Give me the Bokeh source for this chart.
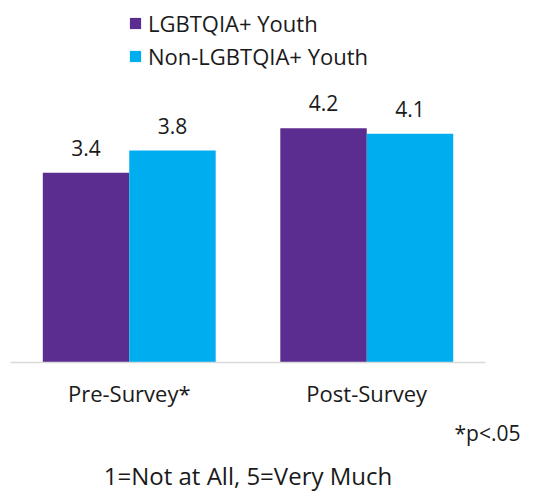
from bokeh.plotting import figure
from bokeh.models import ColumnDataSource, FactorRange, Range1d, Legend, LegendItem, Title
from bokeh.transform import dodge
from bokeh.core.properties import value
from bokeh.embed import file_html
from bokeh.resources import INLINE

# Survey data
categories = ["Pre-Survey*", "Post-Survey"]
series = ["LGBTQIA+ Youth", "Non-LGBTQIA+ Youth"]
lgbtqia = [3.4, 4.2]
non_lgbtqia = [3.8, 4.1]
colors = ["#5c2d91", "#00aeef"]
footnote = "*p<.05"
scale_note = "1=Not at All, 5=Very Much"

FONT = "Open Sans"
TEXT_COLOR = "#1a1a1a"

source = ColumnDataSource(dict(
    cat=categories,
    lgbtqia=lgbtqia,
    non=non_lgbtqia,
    lgbtqia_txt=[f"{v:.1f}" for v in lgbtqia],
    non_txt=[f"{v:.1f}" for v in non_lgbtqia],
))

p = figure(
    x_range=FactorRange(*categories, range_padding=0),
    y_range=Range1d(0, 6.49),
    frame_width=475, frame_height=362,
    min_border_left=10, min_border_right=57, min_border_top=0, min_border_bottom=0,
    output_backend="svg", toolbar_location=None,
    background_fill_color="white", border_fill_color="white",
    outline_line_color=None,
)

bw = 0.364
r1 = p.vbar(x=dodge("cat", -bw / 2, range=p.x_range), top="lgbtqia", width=bw,
            source=source, fill_color=colors[0], line_color=None)
r2 = p.vbar(x=dodge("cat", bw / 2, range=p.x_range), top="non", width=bw,
            source=source, fill_color=colors[1], line_color=None)

# value labels above the bars
for off, col, txt in [(-bw / 2, "lgbtqia", "lgbtqia_txt"), (bw / 2, "non", "non_txt")]:
    p.text(x=dodge("cat", off, range=p.x_range), y=col, text=txt, source=source,
           text_align="center", text_baseline="middle", y_offset=-25,
           text_font=value(FONT), text_font_size="21px", text_color=TEXT_COLOR)

legend = Legend(items=[LegendItem(label=series[0], renderers=[r1]),
                       LegendItem(label=series[1], renderers=[r2])],
                location=(118, 291), orientation="vertical",
                glyph_width=14, glyph_height=14, label_standoff=6, spacing=3,
                padding=0, margin=0, border_line_color=None, background_fill_alpha=0,
                label_text_font=FONT, label_text_font_size="22px", label_text_color=TEXT_COLOR)
p.add_layout(legend)

p.grid.grid_line_color = None
p.yaxis.visible = False
ax = p.xaxis[0]
ax.axis_line_color = "#d9d9d9"
ax.axis_line_width = 1.5
ax.major_tick_line_color = None
ax.minor_tick_line_color = None
ax.major_label_standoff = 9
ax.major_label_text_font = FONT
ax.major_label_text_font_size = "22px"
ax.major_label_text_color = TEXT_COLOR

p.add_layout(Title(text=footnote, align="right", text_font=FONT, text_font_size="21px",
                   text_font_style="normal", text_color=TEXT_COLOR, offset=-35,
                   standoff=12), "below")
p.add_layout(Title(text=scale_note, align="center", text_font=FONT, text_font_size="24px",
                   text_font_style="normal", text_color=TEXT_COLOR,
                   standoff=9), "below")

open("out.html", "w").write(file_html(p, INLINE))
